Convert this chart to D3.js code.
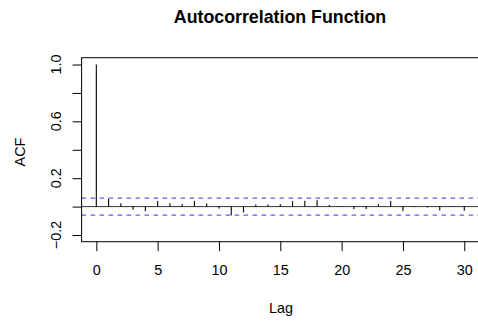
<!DOCTYPE html>
<html><head><meta charset="utf-8">
<script src="https://cdn.jsdelivr.net/npm/d3@7"></script>
<style>body{margin:0;background:#fff}svg{display:block}text{font-family:"Liberation Sans",Arial,Helvetica,sans-serif;fill:#000}</style>
</head><body>
<script>
const lags = d3.range(0, 31);
const acfValues = [1, 0.056, 0.024, -0.023, -0.032, 0.04, 0.024, 0.018, 0.04, 0.022, -0.014, -0.062, -0.042, 0.014, 0.014, 0.017, 0.038, 0.042, 0.045, 0.012, 0.005, -0.019, -0.016, 0.016, 0.039, -0.033, 0.005, -0.006, -0.028, 0.005, -0.03];
const ciBound = 0.06;
const xTicks = [0, 5, 10, 15, 20, 25, 30];
const yTicks = [-0.2, 0, 0.2, 0.4, 0.6, 0.8, 1.0];
const yTickLabels = {"-0.2": "\u22120.2", "0.2": "0.2", "0.6": "0.6", "1": "1.0"};

const W = 478, H = 322;
const svg = d3.select("body").append("svg").attr("width", W).attr("height", H);
const x = d3.scaleLinear().domain([-1.2, 31.2]).range([81.6, 479.0]);
const y = d3.scaleLinear().domain([-0.247, 1.048]).range([241.7, 57.7]);
const [x0, x1] = x.range(), [yb, yt] = y.range();

svg.append("defs").append("clipPath").attr("id", "clip")
  .append("rect").attr("x", x0).attr("y", yt).attr("width", x1 - x0).attr("height", yb - yt);

const plot = svg.append("g").attr("clip-path", "url(#clip)");
// zero line
plot.append("line").attr("x1", x0).attr("x2", x1).attr("y1", y(0)).attr("y2", y(0))
  .attr("stroke", "#333").attr("stroke-width", 1);
// CI lines
[ciBound, -ciBound].forEach(v => {
  plot.append("line").attr("x1", x0).attr("x2", x1).attr("y1", y(v)).attr("y2", y(v))
    .attr("stroke", "#7a4dff").attr("stroke-width", 1.3).attr("stroke-dasharray", "4.5,4.5");
});
// spikes
plot.selectAll("line.spike").data(lags).enter().append("line").attr("class", "spike")
  .attr("x1", d => x(d)).attr("x2", d => x(d))
  .attr("y1", y(0)).attr("y2", d => y(acfValues[d]))
  .attr("stroke", "#000").attr("stroke-width", 1.1);

// box
svg.append("rect").attr("x", x0).attr("y", yt).attr("width", x1 - x0).attr("height", yb - yt)
  .attr("fill", "none").attr("stroke", "#000").attr("stroke-width", 1);

// x axis
const xa = svg.append("g").attr("transform", `translate(0,${yb})`)
  .call(d3.axisBottom(x).tickValues(xTicks).tickSize(9.5).tickPadding(9).tickFormat(d3.format("d")));
xa.select(".domain").remove();
xa.selectAll("line").attr("stroke", "#000");
xa.selectAll("text").style("font-size", "14.4px").attr("dy", null).attr("y", 33.3);

// y axis
const ya = svg.append("g").attr("transform", `translate(${x0},0)`)
  .call(d3.axisLeft(y).tickValues(yTicks).tickSize(9).tickFormat(""));
ya.select(".domain").remove();
ya.selectAll("line").attr("stroke", "#000");
svg.selectAll("text.ylab").data(yTicks.filter(t => yTickLabels[String(+t.toFixed(1))] !== undefined))
  .enter().append("text").attr("class", "ylab")
  .attr("transform", d => `translate(60.5,${y(d)}) rotate(-90)`)
  .attr("text-anchor", "middle").style("font-size", "14.4px")
  .text(d => yTickLabels[String(+d.toFixed(1))]);

// titles
svg.append("text").attr("x", 280).attr("y", 22.5).attr("text-anchor", "middle")
  .style("font-size", "17.8px").style("font-weight", "bold").text("Autocorrelation Function");
svg.append("text").attr("x", 281).attr("y", 313.3).attr("text-anchor", "middle")
  .style("font-size", "14.4px").text("Lag");
svg.append("text").attr("transform", `translate(25,152) rotate(-90)`).attr("text-anchor", "middle")
  .style("font-size", "14.4px").text("ACF");
</script>
</body></html>
